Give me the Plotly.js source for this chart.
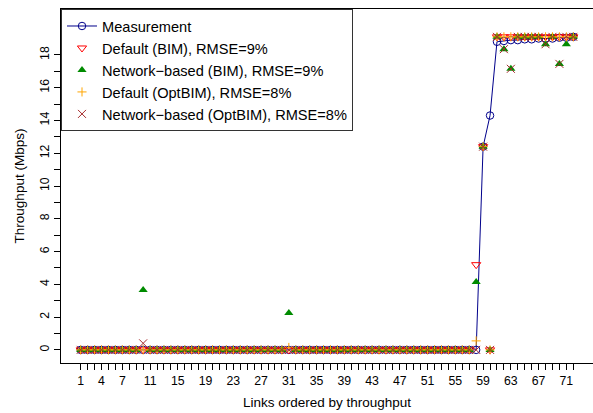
<!DOCTYPE html>
<html>
<head>
<meta charset="utf-8">
<script src="https://cdn.plot.ly/plotly-3.0.1.min.js"></script>
<style>html,body{margin:0;padding:0;background:#fff;}#chart{width:593px;height:413px;}</style>
</head>
<body>
<div id="chart"></div>
<script>
// Link index 1..72 (ordered by throughput)
const links = Array.from({length: 72}, (_, i) => i + 1);

// Helper: 57 zero values for the low-throughput links 1..57
function zeros57(overrides) {
  const a = [];
  for (let i = 1; i <= 57; i++) a.push(overrides && overrides[i] !== undefined ? overrides[i] : 0);
  return a;
}

const measurement = zeros57().concat([0, 12.4, 14.3, 18.8, 18.85, 18.9, 18.9, 18.95, 18.95, 19.0, 19.0, 19.0, 19.05, 19.05, 19.1]);
const defaultBIM = zeros57().concat([5.2, 12.4, 0, 19.1, 19.1, 19.1, 19.1, 19.1, 19.1, 19.1, 19.1, 19.1, 19.1, 19.1, 19.1]);
const networkBIM = zeros57({10: 3.65, 31: 2.25}).concat([4.15, 12.4, 0, 19.1, 18.35, 17.15, 19.1, 19.1, 19.1, 19.1, 18.65, 19.1, 17.45, 18.65, 19.1]);
const defaultOptBIM = zeros57({31: 0.15}).concat([0.55, 12.4, 0, 19.1, 19.1, 19.1, 19.1, 19.1, 19.1, 19.1, 19.1, 19.1, 19.1, 19.1, 19.1]);
const networkOptBIM = zeros57({10: 0.4}).concat([0, 12.4, 0, 19.1, 18.35, 17.15, 19.1, 19.1, 19.1, 19.1, 18.65, 19.1, 17.45, 19.1, 19.1]);

const seriesNames = [
  "Measurement",
  "Default (BIM), RMSE=9%",
  "Network\u2212based (BIM), RMSE=9%",
  "Default (OptBIM), RMSE=8%",
  "Network\u2212based (OptBIM), RMSE=8%"
];

const xTickVals = links;
const xLabelled = [1, 4, 7, 11, 15, 19, 23, 27, 31, 35, 39, 43, 47, 51, 55, 59, 63, 67, 71];
const xTickText = links.map(v => xLabelled.includes(v) ? String(v) : "");
const yTickVals = Array.from({length: 19}, (_, i) => i);
const yTickText = yTickVals.map(v => v % 2 === 0 ? String(v) : "");

const FONT = "'Liberation Sans', Arial, Helvetica, sans-serif";

const traces = [
  {x: links, y: measurement, name: seriesNames[0], mode: "lines+markers", type: "scatter",
   line: {color: "#00008B", width: 1},
   marker: {symbol: "circle-open", size: 7.5, color: "#00008B", line: {width: 1, color: "#00008B"}}},
  {x: links, y: defaultBIM, name: seriesNames[1], mode: "markers", type: "scatter",
   marker: {symbol: "triangle-down-open", size: 8, color: "#FF0000", line: {width: 1, color: "#FF0000"}}},
  {x: links, y: networkBIM, name: seriesNames[2], mode: "markers", type: "scatter",
   marker: {symbol: "triangle-up", size: 8, color: "#008B00", line: {width: 0}}},
  {x: links, y: defaultOptBIM, name: seriesNames[3], mode: "markers", type: "scatter",
   marker: {symbol: "cross-thin-open", size: 6.5, color: "#FFA500", line: {width: 1, color: "#FFA500"}}},
  {x: links, y: networkOptBIM, name: seriesNames[4], mode: "markers", type: "scatter",
   marker: {symbol: "x-thin-open", size: 8, color: "#A52A2A", line: {width: 1, color: "#A52A2A"}}}
];

const layout = {
  width: 593, height: 413,
  margin: {l: 61, r: 0, t: 9, b: 50, pad: 0},
  paper_bgcolor: "#fff", plot_bgcolor: "#fff",
  font: {family: FONT, size: 12.3, color: "#000"},
  showlegend: true,
  legend: {
    x: 0, y: 1, xanchor: "left", yanchor: "top",
    bgcolor: "#fff", bordercolor: "#333", borderwidth: 1,
    font: {family: FONT, size: 14.6, color: "#000"},
    tracegroupgap: 0
  },
  xaxis: {
    range: [-1.84, 74.84], autorange: false,
    showgrid: false, zeroline: false,
    showline: true, linecolor: "#000", linewidth: 1, mirror: true,
    ticks: "outside", ticklen: 6, tickwidth: 1, tickcolor: "#000",
    tickmode: "array", tickvals: xTickVals, ticktext: xTickText,
    tickfont: {family: FONT, size: 12.3, color: "#000"},
    title: {text: "Links ordered by throughput", font: {family: FONT, size: 13.5, color: "#000"}, standoff: 10},
    automargin: false
  },
  yaxis: {
    range: [-0.8, 20.8], autorange: false,
    showgrid: false, zeroline: false,
    showline: true, linecolor: "#000", linewidth: 1, mirror: false,
    ticks: "outside", ticklen: 6, tickwidth: 1, tickcolor: "#000",
    tickmode: "array", tickvals: yTickVals, ticktext: yTickText,
    tickangle: -90,
    tickfont: {family: FONT, size: 12.3, color: "#000"},
    title: {text: "Throughput (Mbps)", font: {family: FONT, size: 13.5, color: "#000"}, standoff: 10},
    automargin: false
  }
};

Plotly.newPlot("chart", traces, layout, {staticPlot: true, displayModeBar: false});
</script>
</body>
</html>
